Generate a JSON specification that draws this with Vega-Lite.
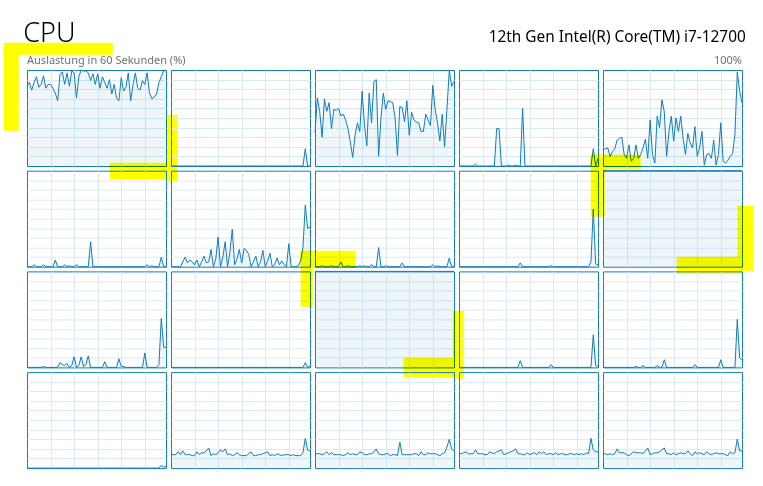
{
"$schema":"https://vega.github.io/schema/vega-lite/v6.json",
"background":"white",
"padding":{"left":3,"top":19,"right":0,"bottom":0},
"data":{"values":[
{"c":1,"t":0,"v":83},{"c":1,"t":1,"v":87},{"c":1,"t":2,"v":79},{"c":1,"t":3,"v":87},{"c":1,"t":4,"v":93},{"c":1,"t":5,"v":82},{"c":1,"t":6,"v":85},{"c":1,"t":7,"v":94},{"c":1,"t":8,"v":81},{"c":1,"t":9,"v":85},{"c":1,"t":10,"v":85},{"c":1,"t":11,"v":81},{"c":1,"t":12,"v":76},{"c":1,"t":13,"v":68},{"c":1,"t":14,"v":95},{"c":1,"t":15,"v":98},{"c":1,"t":16,"v":85},{"c":1,"t":17,"v":97},{"c":1,"t":18,"v":83},{"c":1,"t":19,"v":99},{"c":1,"t":20,"v":97},{"c":1,"t":21,"v":71},{"c":1,"t":22,"v":93},{"c":1,"t":23,"v":100},{"c":1,"t":24,"v":99},{"c":1,"t":25,"v":99},{"c":1,"t":26,"v":97},{"c":1,"t":27,"v":89},{"c":1,"t":28,"v":96},{"c":1,"t":29,"v":85},{"c":1,"t":30,"v":96},{"c":1,"t":31,"v":81},{"c":1,"t":32,"v":93},{"c":1,"t":33,"v":87},{"c":1,"t":34,"v":81},{"c":1,"t":35,"v":90},{"c":1,"t":36,"v":75},{"c":1,"t":37,"v":85},{"c":1,"t":38,"v":71},{"c":1,"t":39,"v":68},{"c":1,"t":40,"v":92},{"c":1,"t":41,"v":78},{"c":1,"t":42,"v":82},{"c":1,"t":43,"v":97},{"c":1,"t":44,"v":68},{"c":1,"t":45,"v":85},{"c":1,"t":46,"v":97},{"c":1,"t":47,"v":81},{"c":1,"t":48,"v":79},{"c":1,"t":49,"v":89},{"c":1,"t":50,"v":85},{"c":1,"t":51,"v":97},{"c":1,"t":52,"v":76},{"c":1,"t":53,"v":70},{"c":1,"t":54,"v":72},{"c":1,"t":55,"v":75},{"c":1,"t":56,"v":87},{"c":1,"t":57,"v":93},{"c":1,"t":58,"v":99},{"c":1,"t":59,"v":100},
{"c":2,"t":0,"v":0},{"c":2,"t":56,"v":0},{"c":2,"t":57,"v":18},{"c":2,"t":58,"v":0},{"c":2,"t":59,"v":0},
{"c":3,"t":0,"v":35},{"c":3,"t":1,"v":71},{"c":3,"t":2,"v":57},{"c":3,"t":3,"v":30},{"c":3,"t":4,"v":70},{"c":3,"t":5,"v":57},{"c":3,"t":6,"v":66},{"c":3,"t":7,"v":39},{"c":3,"t":8,"v":59},{"c":3,"t":9,"v":58},{"c":3,"t":10,"v":60},{"c":3,"t":11,"v":52},{"c":3,"t":12,"v":54},{"c":3,"t":13,"v":48},{"c":3,"t":14,"v":39},{"c":3,"t":15,"v":25},{"c":3,"t":16,"v":9},{"c":3,"t":17,"v":32},{"c":3,"t":18,"v":45},{"c":3,"t":19,"v":36},{"c":3,"t":20,"v":78},{"c":3,"t":21,"v":43},{"c":3,"t":22,"v":21},{"c":3,"t":23,"v":76},{"c":3,"t":24,"v":45},{"c":3,"t":25,"v":88},{"c":3,"t":26,"v":90},{"c":3,"t":27,"v":10},{"c":3,"t":28,"v":50},{"c":3,"t":29,"v":76},{"c":3,"t":30,"v":59},{"c":3,"t":31,"v":68},{"c":3,"t":32,"v":67},{"c":3,"t":33,"v":66},{"c":3,"t":34,"v":50},{"c":3,"t":35,"v":11},{"c":3,"t":36,"v":62},{"c":3,"t":37,"v":61},{"c":3,"t":38,"v":46},{"c":3,"t":39,"v":68},{"c":3,"t":40,"v":32},{"c":3,"t":41,"v":56},{"c":3,"t":42,"v":48},{"c":3,"t":43,"v":46},{"c":3,"t":44,"v":45},{"c":3,"t":45,"v":36},{"c":3,"t":46,"v":36},{"c":3,"t":47,"v":54},{"c":3,"t":48,"v":48},{"c":3,"t":49,"v":42},{"c":3,"t":50,"v":84},{"c":3,"t":51,"v":59},{"c":3,"t":52,"v":45},{"c":3,"t":53,"v":26},{"c":3,"t":54,"v":54},{"c":3,"t":55,"v":20},{"c":3,"t":56,"v":59},{"c":3,"t":57,"v":100},{"c":3,"t":58,"v":83},{"c":3,"t":59,"v":88},
{"c":4,"t":0,"v":0},{"c":4,"t":6,"v":0},{"c":4,"t":7,"v":2},{"c":4,"t":8,"v":0},{"c":4,"t":15,"v":0},{"c":4,"t":16,"v":39},{"c":4,"t":17,"v":39},{"c":4,"t":18,"v":0},{"c":4,"t":20,"v":0},{"c":4,"t":21,"v":1},{"c":4,"t":22,"v":0},{"c":4,"t":23,"v":0},{"c":4,"t":24,"v":1},{"c":4,"t":25,"v":0},{"c":4,"t":26,"v":0},{"c":4,"t":27,"v":60},{"c":4,"t":28,"v":0},{"c":4,"t":56,"v":0},{"c":4,"t":57,"v":18},{"c":4,"t":58,"v":0},{"c":4,"t":59,"v":8},
{"c":5,"t":0,"v":17},{"c":5,"t":1,"v":18},{"c":5,"t":2,"v":19},{"c":5,"t":3,"v":10},{"c":5,"t":4,"v":15},{"c":5,"t":5,"v":18},{"c":5,"t":6,"v":27},{"c":5,"t":7,"v":29},{"c":5,"t":8,"v":30},{"c":5,"t":9,"v":12},{"c":5,"t":10,"v":8},{"c":5,"t":11,"v":22},{"c":5,"t":12,"v":5},{"c":5,"t":13,"v":8},{"c":5,"t":14,"v":22},{"c":5,"t":15,"v":8},{"c":5,"t":16,"v":12},{"c":5,"t":17,"v":19},{"c":5,"t":18,"v":28},{"c":5,"t":19,"v":8},{"c":5,"t":20,"v":48},{"c":5,"t":21,"v":12},{"c":5,"t":22,"v":3},{"c":5,"t":23,"v":52},{"c":5,"t":24,"v":40},{"c":5,"t":25,"v":69},{"c":5,"t":26,"v":57},{"c":5,"t":27,"v":10},{"c":5,"t":28,"v":36},{"c":5,"t":29,"v":52},{"c":5,"t":30,"v":26},{"c":5,"t":31,"v":50},{"c":5,"t":32,"v":36},{"c":5,"t":33,"v":52},{"c":5,"t":34,"v":29},{"c":5,"t":35,"v":12},{"c":5,"t":36,"v":34},{"c":5,"t":37,"v":24},{"c":5,"t":38,"v":19},{"c":5,"t":39,"v":41},{"c":5,"t":40,"v":10},{"c":5,"t":41,"v":19},{"c":5,"t":42,"v":36},{"c":5,"t":43,"v":1},{"c":5,"t":44,"v":12},{"c":5,"t":45,"v":13},{"c":5,"t":46,"v":8},{"c":5,"t":47,"v":27},{"c":5,"t":48,"v":1},{"c":5,"t":49,"v":12},{"c":5,"t":50,"v":45},{"c":5,"t":51,"v":5},{"c":5,"t":52,"v":3},{"c":5,"t":53,"v":6},{"c":5,"t":54,"v":10},{"c":5,"t":55,"v":13},{"c":5,"t":56,"v":33},{"c":5,"t":57,"v":98},{"c":5,"t":58,"v":78},{"c":5,"t":59,"v":66},
{"c":6,"t":0,"v":0},{"c":6,"t":2,"v":0},{"c":6,"t":3,"v":2},{"c":6,"t":4,"v":0},{"c":6,"t":6,"v":0},{"c":6,"t":7,"v":2},{"c":6,"t":8,"v":0},{"c":6,"t":11,"v":0},{"c":6,"t":12,"v":7},{"c":6,"t":13,"v":0},{"c":6,"t":15,"v":0},{"c":6,"t":16,"v":2},{"c":6,"t":17,"v":0},{"c":6,"t":18,"v":1},{"c":6,"t":19,"v":0},{"c":6,"t":20,"v":0},{"c":6,"t":21,"v":2},{"c":6,"t":22,"v":0},{"c":6,"t":26,"v":0},{"c":6,"t":27,"v":26},{"c":6,"t":28,"v":0},{"c":6,"t":50,"v":0},{"c":6,"t":51,"v":2},{"c":6,"t":52,"v":0},{"c":6,"t":53,"v":1},{"c":6,"t":54,"v":0},{"c":6,"t":56,"v":0},{"c":6,"t":57,"v":10},{"c":6,"t":58,"v":0},{"c":6,"t":59,"v":0},
{"c":7,"t":0,"v":0},{"c":7,"t":1,"v":0},{"c":7,"t":2,"v":0},{"c":7,"t":3,"v":0},{"c":7,"t":4,"v":0},{"c":7,"t":5,"v":5},{"c":7,"t":6,"v":10},{"c":7,"t":7,"v":4},{"c":7,"t":8,"v":7},{"c":7,"t":9,"v":5},{"c":7,"t":10,"v":2},{"c":7,"t":11,"v":7},{"c":7,"t":12,"v":0},{"c":7,"t":13,"v":5},{"c":7,"t":14,"v":11},{"c":7,"t":15,"v":4},{"c":7,"t":16,"v":5},{"c":7,"t":17,"v":18},{"c":7,"t":18,"v":0},{"c":7,"t":19,"v":8},{"c":7,"t":20,"v":31},{"c":7,"t":21,"v":0},{"c":7,"t":22,"v":10},{"c":7,"t":23,"v":26},{"c":7,"t":24,"v":0},{"c":7,"t":25,"v":15},{"c":7,"t":26,"v":39},{"c":7,"t":27,"v":2},{"c":7,"t":28,"v":8},{"c":7,"t":29,"v":18},{"c":7,"t":30,"v":4},{"c":7,"t":31,"v":19},{"c":7,"t":32,"v":17},{"c":7,"t":33,"v":13},{"c":7,"t":34,"v":0},{"c":7,"t":35,"v":5},{"c":7,"t":36,"v":11},{"c":7,"t":37,"v":0},{"c":7,"t":38,"v":5},{"c":7,"t":39,"v":17},{"c":7,"t":40,"v":0},{"c":7,"t":41,"v":6},{"c":7,"t":42,"v":14},{"c":7,"t":43,"v":0},{"c":7,"t":44,"v":2},{"c":7,"t":45,"v":9},{"c":7,"t":46,"v":2},{"c":7,"t":47,"v":6},{"c":7,"t":48,"v":2},{"c":7,"t":49,"v":0},{"c":7,"t":50,"v":24},{"c":7,"t":51,"v":0},{"c":7,"t":52,"v":0},{"c":7,"t":53,"v":0},{"c":7,"t":54,"v":1},{"c":7,"t":55,"v":6},{"c":7,"t":56,"v":20},{"c":7,"t":57,"v":64},{"c":7,"t":58,"v":40},{"c":7,"t":59,"v":41},
{"c":8,"t":0,"v":0},{"c":8,"t":2,"v":0},{"c":8,"t":3,"v":1},{"c":8,"t":4,"v":0},{"c":8,"t":6,"v":0},{"c":8,"t":7,"v":1},{"c":8,"t":8,"v":0},{"c":8,"t":10,"v":0},{"c":8,"t":11,"v":5},{"c":8,"t":12,"v":0},{"c":8,"t":13,"v":0},{"c":8,"t":14,"v":1},{"c":8,"t":15,"v":0},{"c":8,"t":18,"v":0},{"c":8,"t":19,"v":1},{"c":8,"t":20,"v":0},{"c":8,"t":21,"v":1},{"c":8,"t":22,"v":0},{"c":8,"t":23,"v":0},{"c":8,"t":24,"v":2},{"c":8,"t":25,"v":0},{"c":8,"t":26,"v":0},{"c":8,"t":27,"v":20},{"c":8,"t":28,"v":0},{"c":8,"t":29,"v":0},{"c":8,"t":30,"v":1},{"c":8,"t":31,"v":0},{"c":8,"t":36,"v":0},{"c":8,"t":37,"v":4},{"c":8,"t":38,"v":0},{"c":8,"t":49,"v":0},{"c":8,"t":50,"v":2},{"c":8,"t":51,"v":0},{"c":8,"t":52,"v":1},{"c":8,"t":53,"v":0},{"c":8,"t":56,"v":0},{"c":8,"t":57,"v":9},{"c":8,"t":58,"v":0},{"c":8,"t":59,"v":0},
{"c":9,"t":0,"v":0},{"c":9,"t":25,"v":0},{"c":9,"t":26,"v":4},{"c":9,"t":27,"v":0},{"c":9,"t":38,"v":0},{"c":9,"t":39,"v":1},{"c":9,"t":40,"v":0},{"c":9,"t":55,"v":0},{"c":9,"t":56,"v":5},{"c":9,"t":57,"v":60},{"c":9,"t":58,"v":3},{"c":9,"t":59,"v":2},
{"c":10,"t":0,"v":100},{"c":10,"t":59,"v":100},
{"c":11,"t":0,"v":0},{"c":11,"t":6,"v":0},{"c":11,"t":7,"v":1},{"c":11,"t":8,"v":0},{"c":11,"t":13,"v":0},{"c":11,"t":14,"v":5},{"c":11,"t":15,"v":3},{"c":11,"t":16,"v":2},{"c":11,"t":17,"v":4},{"c":11,"t":18,"v":0},{"c":11,"t":19,"v":2},{"c":11,"t":20,"v":11},{"c":11,"t":21,"v":0},{"c":11,"t":22,"v":2},{"c":11,"t":23,"v":11},{"c":11,"t":24,"v":1},{"c":11,"t":25,"v":3},{"c":11,"t":26,"v":12},{"c":11,"t":27,"v":0},{"c":11,"t":32,"v":0},{"c":11,"t":33,"v":6},{"c":11,"t":34,"v":0},{"c":11,"t":38,"v":0},{"c":11,"t":39,"v":9},{"c":11,"t":40,"v":1},{"c":11,"t":41,"v":1},{"c":11,"t":42,"v":0},{"c":11,"t":49,"v":0},{"c":11,"t":50,"v":15},{"c":11,"t":51,"v":0},{"c":11,"t":55,"v":0},{"c":11,"t":56,"v":3},{"c":11,"t":57,"v":51},{"c":11,"t":58,"v":21},{"c":11,"t":59,"v":21},
{"c":12,"t":0,"v":0},{"c":12,"t":56,"v":0},{"c":12,"t":57,"v":5},{"c":12,"t":58,"v":0},{"c":12,"t":59,"v":1},
{"c":13,"t":0,"v":100},{"c":13,"t":59,"v":100},
{"c":14,"t":0,"v":0},{"c":14,"t":25,"v":0},{"c":14,"t":26,"v":7},{"c":14,"t":27,"v":0},{"c":14,"t":38,"v":0},{"c":14,"t":39,"v":3},{"c":14,"t":40,"v":0},{"c":14,"t":56,"v":0},{"c":14,"t":57,"v":34},{"c":14,"t":58,"v":2},{"c":14,"t":59,"v":1},
{"c":15,"t":0,"v":0},{"c":15,"t":13,"v":0},{"c":15,"t":14,"v":1},{"c":15,"t":15,"v":0},{"c":15,"t":16,"v":0},{"c":15,"t":17,"v":2},{"c":15,"t":18,"v":0},{"c":15,"t":22,"v":0},{"c":15,"t":23,"v":2},{"c":15,"t":24,"v":0},{"c":15,"t":25,"v":0},{"c":15,"t":26,"v":8},{"c":15,"t":27,"v":0},{"c":15,"t":38,"v":0},{"c":15,"t":39,"v":3},{"c":15,"t":40,"v":0},{"c":15,"t":49,"v":0},{"c":15,"t":50,"v":8},{"c":15,"t":51,"v":0},{"c":15,"t":56,"v":0},{"c":15,"t":57,"v":50},{"c":15,"t":58,"v":10},{"c":15,"t":59,"v":8},
{"c":16,"t":0,"v":0},{"c":16,"t":56,"v":0},{"c":16,"t":57,"v":3},{"c":16,"t":58,"v":1},{"c":16,"t":59,"v":2},
{"c":17,"t":0,"v":14},{"c":17,"t":1,"v":14},{"c":17,"t":2,"v":14},{"c":17,"t":3,"v":17},{"c":17,"t":4,"v":14},{"c":17,"t":5,"v":18},{"c":17,"t":6,"v":14},{"c":17,"t":7,"v":14},{"c":17,"t":8,"v":14},{"c":17,"t":9,"v":13},{"c":17,"t":10,"v":13},{"c":17,"t":11,"v":17},{"c":17,"t":12,"v":14},{"c":17,"t":13,"v":16},{"c":17,"t":14,"v":16},{"c":17,"t":15,"v":18},{"c":17,"t":16,"v":21},{"c":17,"t":17,"v":13},{"c":17,"t":18,"v":15},{"c":17,"t":19,"v":14},{"c":17,"t":20,"v":16},{"c":17,"t":21,"v":19},{"c":17,"t":22,"v":17},{"c":17,"t":23,"v":20},{"c":17,"t":24,"v":14},{"c":17,"t":25,"v":15},{"c":17,"t":26,"v":13},{"c":17,"t":27,"v":14},{"c":17,"t":28,"v":16},{"c":17,"t":29,"v":14},{"c":17,"t":30,"v":13},{"c":17,"t":31,"v":13},{"c":17,"t":32,"v":13},{"c":17,"t":33,"v":15},{"c":17,"t":34,"v":17},{"c":17,"t":35,"v":13},{"c":17,"t":36,"v":13},{"c":17,"t":37,"v":14},{"c":17,"t":38,"v":14},{"c":17,"t":39,"v":15},{"c":17,"t":40,"v":16},{"c":17,"t":41,"v":17},{"c":17,"t":42,"v":13},{"c":17,"t":43,"v":14},{"c":17,"t":44,"v":13},{"c":17,"t":45,"v":15},{"c":17,"t":46,"v":14},{"c":17,"t":47,"v":13},{"c":17,"t":48,"v":14},{"c":17,"t":49,"v":14},{"c":17,"t":50,"v":14},{"c":17,"t":51,"v":13},{"c":17,"t":52,"v":14},{"c":17,"t":53,"v":13},{"c":17,"t":54,"v":13},{"c":17,"t":55,"v":13},{"c":17,"t":56,"v":16},{"c":17,"t":57,"v":31},{"c":17,"t":58,"v":19},{"c":17,"t":59,"v":18},
{"c":18,"t":0,"v":15},{"c":18,"t":1,"v":15},{"c":18,"t":2,"v":15},{"c":18,"t":3,"v":14},{"c":18,"t":4,"v":15},{"c":18,"t":5,"v":17},{"c":18,"t":6,"v":14},{"c":18,"t":7,"v":16},{"c":18,"t":8,"v":14},{"c":18,"t":9,"v":14},{"c":18,"t":10,"v":14},{"c":18,"t":11,"v":14},{"c":18,"t":12,"v":13},{"c":18,"t":13,"v":14},{"c":18,"t":14,"v":16},{"c":18,"t":15,"v":14},{"c":18,"t":16,"v":15},{"c":18,"t":17,"v":14},{"c":18,"t":18,"v":14},{"c":18,"t":19,"v":17},{"c":18,"t":20,"v":16},{"c":18,"t":21,"v":14},{"c":18,"t":22,"v":14},{"c":18,"t":23,"v":15},{"c":18,"t":24,"v":15},{"c":18,"t":25,"v":17},{"c":18,"t":26,"v":20},{"c":18,"t":27,"v":15},{"c":18,"t":28,"v":14},{"c":18,"t":29,"v":14},{"c":18,"t":30,"v":15},{"c":18,"t":31,"v":15},{"c":18,"t":32,"v":13},{"c":18,"t":33,"v":14},{"c":18,"t":34,"v":14},{"c":18,"t":35,"v":13},{"c":18,"t":36,"v":27},{"c":18,"t":37,"v":14},{"c":18,"t":38,"v":14},{"c":18,"t":39,"v":14},{"c":18,"t":40,"v":14},{"c":18,"t":41,"v":14},{"c":18,"t":42,"v":15},{"c":18,"t":43,"v":15},{"c":18,"t":44,"v":13},{"c":18,"t":45,"v":17},{"c":18,"t":46,"v":14},{"c":18,"t":47,"v":14},{"c":18,"t":48,"v":16},{"c":18,"t":49,"v":15},{"c":18,"t":50,"v":15},{"c":18,"t":51,"v":15},{"c":18,"t":52,"v":14},{"c":18,"t":53,"v":13},{"c":18,"t":54,"v":15},{"c":18,"t":55,"v":16},{"c":18,"t":56,"v":22},{"c":18,"t":57,"v":30},{"c":18,"t":58,"v":20},{"c":18,"t":59,"v":18},
{"c":19,"t":0,"v":15},{"c":19,"t":1,"v":15},{"c":19,"t":2,"v":16},{"c":19,"t":3,"v":17},{"c":19,"t":4,"v":15},{"c":19,"t":5,"v":15},{"c":19,"t":6,"v":15},{"c":19,"t":7,"v":19},{"c":19,"t":8,"v":15},{"c":19,"t":9,"v":15},{"c":19,"t":10,"v":15},{"c":19,"t":11,"v":14},{"c":19,"t":12,"v":14},{"c":19,"t":13,"v":17},{"c":19,"t":14,"v":16},{"c":19,"t":15,"v":15},{"c":19,"t":16,"v":17},{"c":19,"t":17,"v":18},{"c":19,"t":18,"v":19},{"c":19,"t":19,"v":14},{"c":19,"t":20,"v":15},{"c":19,"t":21,"v":16},{"c":19,"t":22,"v":17},{"c":19,"t":23,"v":18},{"c":19,"t":24,"v":20},{"c":19,"t":25,"v":15},{"c":19,"t":26,"v":15},{"c":19,"t":27,"v":14},{"c":19,"t":28,"v":14},{"c":19,"t":29,"v":16},{"c":19,"t":30,"v":14},{"c":19,"t":31,"v":15},{"c":19,"t":32,"v":16},{"c":19,"t":33,"v":14},{"c":19,"t":34,"v":17},{"c":19,"t":35,"v":15},{"c":19,"t":36,"v":17},{"c":19,"t":37,"v":14},{"c":19,"t":38,"v":15},{"c":19,"t":39,"v":15},{"c":19,"t":40,"v":14},{"c":19,"t":41,"v":16},{"c":19,"t":42,"v":14},{"c":19,"t":43,"v":15},{"c":19,"t":44,"v":15},{"c":19,"t":45,"v":14},{"c":19,"t":46,"v":14},{"c":19,"t":47,"v":15},{"c":19,"t":48,"v":15},{"c":19,"t":49,"v":14},{"c":19,"t":50,"v":15},{"c":19,"t":51,"v":14},{"c":19,"t":52,"v":15},{"c":19,"t":53,"v":14},{"c":19,"t":54,"v":16},{"c":19,"t":55,"v":15},{"c":19,"t":56,"v":31},{"c":19,"t":57,"v":19},{"c":19,"t":58,"v":17},{"c":19,"t":59,"v":17},
{"c":20,"t":0,"v":15},{"c":20,"t":1,"v":15},{"c":20,"t":2,"v":14},{"c":20,"t":3,"v":15},{"c":20,"t":4,"v":14},{"c":20,"t":5,"v":15},{"c":20,"t":6,"v":20},{"c":20,"t":7,"v":16},{"c":20,"t":8,"v":16},{"c":20,"t":9,"v":16},{"c":20,"t":10,"v":14},{"c":20,"t":11,"v":13},{"c":20,"t":12,"v":15},{"c":20,"t":13,"v":17},{"c":20,"t":14,"v":16},{"c":20,"t":15,"v":16},{"c":20,"t":16,"v":16},{"c":20,"t":17,"v":15},{"c":20,"t":18,"v":18},{"c":20,"t":19,"v":21},{"c":20,"t":20,"v":14},{"c":20,"t":21,"v":15},{"c":20,"t":22,"v":16},{"c":20,"t":23,"v":16},{"c":20,"t":24,"v":17},{"c":20,"t":25,"v":19},{"c":20,"t":26,"v":21},{"c":20,"t":27,"v":15},{"c":20,"t":28,"v":15},{"c":20,"t":29,"v":14},{"c":20,"t":30,"v":16},{"c":20,"t":31,"v":14},{"c":20,"t":32,"v":15},{"c":20,"t":33,"v":16},{"c":20,"t":34,"v":15},{"c":20,"t":35,"v":15},{"c":20,"t":36,"v":18},{"c":20,"t":37,"v":15},{"c":20,"t":38,"v":13},{"c":20,"t":39,"v":17},{"c":20,"t":40,"v":15},{"c":20,"t":41,"v":16},{"c":20,"t":42,"v":15},{"c":20,"t":43,"v":14},{"c":20,"t":44,"v":17},{"c":20,"t":45,"v":15},{"c":20,"t":46,"v":14},{"c":20,"t":47,"v":15},{"c":20,"t":48,"v":16},{"c":20,"t":49,"v":15},{"c":20,"t":50,"v":15},{"c":20,"t":51,"v":15},{"c":20,"t":52,"v":14},{"c":20,"t":53,"v":13},{"c":20,"t":54,"v":17},{"c":20,"t":55,"v":15},{"c":20,"t":56,"v":16},{"c":20,"t":57,"v":30},{"c":20,"t":58,"v":18},{"c":20,"t":59,"v":18},
{"c":1,"s":"h","t":-9.9,"t2":-3.5,"v":124.3,"v2":36.8},
{"c":1,"s":"h","t":-9.9,"t2":36.4,"v":128.4,"v2":115.9},
{"c":1,"s":"h","t":35.1,"t2":61.8,"v":3.4,"v2":-14.3},
{"c":1,"s":"h","t":59.3,"t2":64,"v":53.4,"v2":-16.4},
{"c":10,"s":"h","t":-5.2,"t2":16,"v":116.7,"v2":102.1},
{"c":10,"s":"h","t":-5.2,"t2":0.7,"v":116.7,"v2":52.1},
{"c":10,"s":"h","t":31.3,"t2":59.3,"v":10.4,"v2":-7.3},
{"c":10,"s":"h","t":57.1,"t2":63.9,"v":63.5,"v2":-4.2},
{"c":13,"s":"h","t":-6.1,"t2":17.3,"v":121.6,"v2":103.9},
{"c":13,"s":"h","t":-6.1,"t2":-1,"v":121.6,"v2":63.2},
{"c":13,"s":"h","t":37.6,"t2":61,"v":10.1,"v2":-10.7},
{"c":13,"s":"h","t":58.5,"t2":63.2,"v":59.1,"v2":-11.8}
]},
"facet":{"field":"c","type":"ordinal","title":null,"header":{"labels":false,"title":null,"labelExpr":"''","labelFontSize":0,"labelPadding":0,"labelColor":"transparent"}},
"columns":5,
"spacing":{"row":4.7,"column":5},
"bounds":"flush",
"spec":{
"width":139,"height":96,
"layer":[
{"transform":[{"filter":"!datum.s"}],
 "mark":{"type":"area","fill":"#117DBB","fillOpacity":0.065,"stroke":null},
 "encoding":{
  "x":{"field":"t","type":"quantitative","scale":{"domain":[0,59],"nice":false,"zero":false},"axis":{"values":[10,20,30,40,50],"labels":false,"ticks":false,"domain":false,"title":null,"grid":true}},
  "y":{"field":"v","type":"quantitative","scale":{"domain":[0,100],"nice":false},"axis":{"values":[10,20,30,40,50,60,70,80,90],"labels":false,"ticks":false,"domain":false,"title":null,"grid":true}}}},
{"transform":[{"filter":"!datum.s"}],
 "mark":{"type":"line","color":"#117DBB","strokeWidth":1},
 "encoding":{
  "x":{"field":"t","type":"quantitative","axis":{"values":[10,20,30,40,50],"labels":false,"ticks":false,"domain":false,"title":null,"grid":true}},
  "y":{"field":"v","type":"quantitative","axis":{"values":[10,20,30,40,50,60,70,80,90],"labels":false,"ticks":false,"domain":false,"title":null,"grid":true}}}},
{"transform":[{"filter":"datum.s"}],
 "mark":{"type":"rect","color":"#FFFF00","opacity":1,"blend":"multiply"},
 "encoding":{
  "x":{"field":"t","type":"quantitative","axis":{"values":[10,20,30,40,50],"labels":false,"ticks":false,"domain":false,"title":null,"grid":true}},
  "x2":{"field":"t2"},
  "y":{"field":"v","type":"quantitative","axis":{"values":[10,20,30,40,50,60,70,80,90],"labels":false,"ticks":false,"domain":false,"title":null,"grid":true}},
  "y2":{"field":"v2"}}},
{"transform":[{"filter":"datum.c == 1 && datum.t == 0 && !datum.s"}],
 "mark":{"type":"text","text":"CPU","fontSize":27,"fontWeight":300,"align":"left","baseline":"alphabetic","color":"#000000"},
 "encoding":{
  "x":{"datum":-1.6,"type":"quantitative","axis":{"values":[10,20,30,40,50],"labels":false,"ticks":false,"domain":false,"title":null,"grid":true}},
  "y":{"datum":129.5,"type":"quantitative","axis":{"values":[10,20,30,40,50,60,70,80,90],"labels":false,"ticks":false,"domain":false,"title":null,"grid":true}}}},
{"transform":[{"filter":"datum.c == 1 && datum.t == 0 && !datum.s"}],
 "mark":{"type":"text","text":"Auslastung in 60 Sekunden (%)","fontSize":11,"align":"left","baseline":"alphabetic","color":"#707070"},
 "encoding":{
  "x":{"datum":0,"type":"quantitative","axis":{"values":[10,20,30,40,50],"labels":false,"ticks":false,"domain":false,"title":null,"grid":true}},
  "y":{"datum":106.3,"type":"quantitative","axis":{"values":[10,20,30,40,50,60,70,80,90],"labels":false,"ticks":false,"domain":false,"title":null,"grid":true}}}},
{"transform":[{"filter":"datum.c == 5 && datum.t == 0 && !datum.s"}],
 "mark":{"type":"text","text":"12th Gen Intel(R) Core(TM) i7-12700","fontSize":15.4,"align":"right","baseline":"alphabetic","color":"#000000"},
 "encoding":{
  "x":{"datum":60.6,"type":"quantitative","axis":{"values":[10,20,30,40,50],"labels":false,"ticks":false,"domain":false,"title":null,"grid":true}},
  "y":{"datum":128.9,"type":"quantitative","axis":{"values":[10,20,30,40,50,60,70,80,90],"labels":false,"ticks":false,"domain":false,"title":null,"grid":true}}}},
{"transform":[{"filter":"datum.c == 5 && datum.t == 0 && !datum.s"}],
 "mark":{"type":"text","text":"100%","fontSize":11,"align":"right","baseline":"alphabetic","color":"#707070"},
 "encoding":{
  "x":{"datum":59,"type":"quantitative","axis":{"values":[10,20,30,40,50],"labels":false,"ticks":false,"domain":false,"title":null,"grid":true}},
  "y":{"datum":106.3,"type":"quantitative","axis":{"values":[10,20,30,40,50,60,70,80,90],"labels":false,"ticks":false,"domain":false,"title":null,"grid":true}}}}
]},
"config":{
 "font":"Segoe UI, Noto Sans, sans-serif",
 "view":{"stroke":"#117DBB","strokeWidth":1},
 "axis":{"gridColor":"#D9EAF4","gridOpacity":1,"gridWidth":1,"minExtent":0,"maxExtent":0},
 "header":{"labels":false,"title":null}
}
}
